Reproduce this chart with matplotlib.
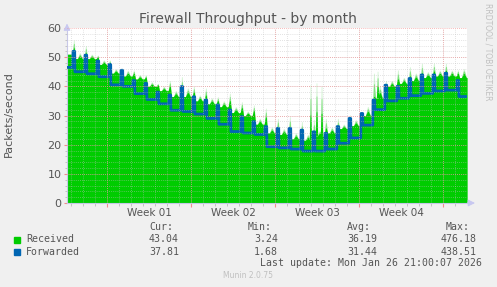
import numpy as np
import matplotlib
matplotlib.use('Agg')
import matplotlib.pyplot as plt

# DATA (packets/second)
# one level per day segment (between the daily spikes), 34 segments
fwd_level = [46.5, 45.0, 44.3, 43.3, 40.5, 40.0, 37.5, 35.5, 34.0, 31.8,
             31.4, 30.5, 29.0, 27.0, 24.5, 24.0, 23.5, 19.3, 18.9, 18.5,
             17.8, 17.8, 18.5, 20.5, 22.3, 26.7, 32.0, 35.0, 35.9, 36.8,
             37.6, 38.4, 38.7, 36.5]
# daily spike peaks, 33 spikes
fwd_peak = [52.0, 50.7, 48.7, 47.5, 45.5, 42.0, 41.0, 38.0, 37.0, 39.9,
            36.4, 35.3, 33.6, 31.9, 29.6, 27.9, 26.2, 25.6, 25.6, 25.0,
            24.4, 23.9, 26.2, 29.0, 30.7, 35.3, 40.4, 40.0, 42.7, 43.9,
            43.9, 44.5, 42.0]
recv_level = [51.0, 49.5, 49.5, 47.5, 44.5, 43.5, 42.5, 40.0, 38.5, 36.5,
              36.5, 35.0, 34.0, 33.0, 31.0, 30.0, 27.0, 24.0, 23.5, 22.0,
              21.5, 23.0, 24.0, 25.5, 26.5, 30.0, 36.0, 40.0, 41.0, 42.0,
              43.0, 43.5, 43.5, 43.0]
# bump in the middle of each day segment
recv_mid = [53.0, 51.5, 51.0, 49.0, 46.0, 45.5, 44.0, 41.5, 40.0, 38.5,
            39.4, 37.0, 36.0, 35.0, 33.0, 31.5, 29.0, 26.0, 25.5, 24.0,
            23.5, 25.0, 26.0, 27.0, 28.5, 33.0, 40.0, 42.0, 43.0, 44.5,
            45.0, 45.5, 45.5, 46.0]
recv_peak = [55.9, 54.0, 50.7, 49.0, 46.2, 45.6, 43.9, 41.0, 42.0, 43.3,
             40.0, 39.4, 36.4, 37.6, 34.7, 33.6, 32.5, 29.0, 29.6, 27.9,
             28.6, 29.0, 29.0, 30.2, 30.7, 44.5, 42.0, 45.6, 46.7, 47.9,
             48.0, 47.9, 45.6]
# extra received bursts not on the daily rhythm (day, peak)
burst_day = [20.33, 20.83, 21.25, 25.92]
burst_peak = [40.4, 41.0, 39.8, 45.0]

week_labels = ['Week 01', 'Week 02', 'Week 03', 'Week 04']
legend_names = ['Received', 'Forwarded']
cur = ['43.04', '37.81']
mins = ['3.24', '1.68']
avgs = ['36.19', '31.44']
maxs = ['476.18', '438.51']

SPAN = 33.33      # days shown
PHASE = 0.57      # spike time inside each day
FIRST_MONDAY = 3.33

GREEN = '#00cc00'
BLUE = '#0066b3'
TXT = '#555555'


def spiky(levels, peaks, frac, inner, outer, mids=None):
    xs, ys = [0.0], [levels[0]]
    for k in range(len(levels)):
        lv = levels[k]
        if mids is not None:
            m = k + PHASE - 0.5
            if m > 0.15:
                top = lv + frac * (mids[k] - lv)
                xs += [m - 0.2, m - 0.04, m + 0.04, m + 0.2]
                ys += [lv, top, top, lv]
        if k < len(peaks):
            s = k + PHASE
            top = lv + frac * (peaks[k] - lv)
            xs += [s - outer, s - inner, s + inner, s + outer]
            ys += [lv, top, top, levels[k + 1]]
    xs.append(SPAN)
    ys.append(levels[-1])
    return np.array(xs), np.array(ys)


fig = plt.figure(figsize=(4.97, 2.87), dpi=100)
fig.patch.set_facecolor('#f0f0f0')
ax = fig.add_axes([67 / 497, 1 - 203 / 287, 400 / 497, 175 / 287])
ax.set_facecolor('white')

# received area in three tones to fake the faded spike tips
for frac, col in [(1.0, '#d2f4d2'), (0.75, '#7ee27e'), (0.45, GREEN)]:
    x, y = spiky(recv_level, recv_peak, frac, 0.03, 0.14, recv_mid)
    ax.fill_between(x, 0, y, color=col, lw=0)
    for d, p in zip(burst_day, burst_peak):
        base = recv_level[min(int(d - PHASE + 1), len(recv_level) - 1)]
        top = base + frac * (p - base)
        ax.fill([d - 0.1, d - 0.03, d + 0.03, d + 0.1], [base, top, top, base],
                color=col, lw=0)

x, y = spiky(fwd_level, fwd_peak, 1.0, 0.07, 0.09)
ax.plot(x, y, color=BLUE, lw=2.0, solid_joinstyle='round', zorder=4)

# grid on top, like rrdtool
for d in np.arange(0.33, SPAN, 1.0):
    ax.axvline(d, color='#c0c0c0', lw=0.6, ls=(0, (1, 1.5)), alpha=0.6, zorder=5)
for v in range(2, 60, 2):
    ax.axhline(v, color='#c0c0c0', lw=0.6, ls=(0, (1, 1.5)), alpha=0.6, zorder=5)
for d in np.arange(FIRST_MONDAY, SPAN, 7.0):
    ax.axvline(d, color='#f08c8c', lw=0.6, ls=(0, (1, 1.5)), alpha=0.8, zorder=6)
for v in range(10, 61, 10):
    ax.axhline(v, color='#f08c8c', lw=0.6, ls=(0, (1, 1.5)), alpha=0.8, zorder=6)

ax.set_xlim(0, SPAN)
ax.set_ylim(0, 60)
for side in ['top', 'right']:
    ax.spines[side].set_visible(False)
ax.spines['left'].set_color('#c8c8e8')
ax.spines['bottom'].set_color('#c8c8e8')
ax.spines['left'].set_linewidth(0.8)
ax.spines['bottom'].set_linewidth(0.8)

ax.set_yticks(range(0, 61, 10))
ax.set_yticks(range(0, 61, 2), minor=True)
ax.set_xticks(np.arange(FIRST_MONDAY, SPAN, 7.0))
ax.set_xticks(np.arange(0.33, SPAN, 1.0), minor=True)
ax.set_xticklabels([])
ax.tick_params(axis='y', which='major', length=2, color='#f08c8c',
               labelsize=8, labelcolor=TXT, pad=2)
ax.tick_params(axis='y', which='minor', length=1.5, color='#bbbbbb')
ax.tick_params(axis='x', which='major', length=3, color='#f08c8c')
ax.tick_params(axis='x', which='minor', length=2, color='#bbbbbb')

for i, lab in enumerate(week_labels):
    ax.text(FIRST_MONDAY + 3.5 + 7 * i, -3.3, lab, ha='center', va='center',
            fontsize=7.5, color=TXT)

# axis arrows
ax.annotate('', xy=(0, 62.5), xytext=(0, 59), annotation_clip=False,
            arrowprops=dict(arrowstyle='-|>', color='#c8c8f0', lw=0.8))
ax.annotate('', xy=(SPAN + 0.9, 0), xytext=(SPAN - 0.2, 0), annotation_clip=False,
            arrowprops=dict(arrowstyle='-|>', color='#c8c8f0', lw=0.8))

ax.set_ylabel('Packets/second', fontsize=8, color=TXT)
ax.yaxis.set_label_coords(-53 / 400, 0.51)

fig.text(248 / 497, 1 - 19 / 287, 'Firewall Throughput - by month',
         ha='center', va='center', fontsize=10, color=TXT)
fig.text(488 / 497, 1 - 52 / 287, 'RRDTOOL / TOBI OETIKER', rotation=270,
         ha='center', va='center', fontsize=5.5, color='#c0c0c0')

# legend block
mono = dict(family='DejaVu Sans Mono', fontsize=7.1, color=TXT, va='center')
W, H = 497.0, 287.0
for txt, xr in [('Cur:', 173), ('Min:', 272), ('Avg:', 371), ('Max:', 470)]:
    fig.text(xr / W, 1 - 227 / H, txt, ha='right', **mono)
rows_y = [239.5, 252]
for i, name in enumerate(legend_names):
    yy = 1 - rows_y[i] / H
    col = GREEN if i == 0 else BLUE
    fig.patches.append(plt.Rectangle((14 / W, yy - 3 / H), 6 / W, 6 / H,
                                     transform=fig.transFigure, color=col))
    fig.text(26 / W, yy, name, ha='left', **mono)
    fig.text(179 / W, yy, cur[i], ha='right', **mono)
    fig.text(278 / W, yy, mins[i], ha='right', **mono)
    fig.text(377 / W, yy, avgs[i], ha='right', **mono)
    fig.text(477 / W, yy, maxs[i], ha='right', **mono)
fig.text(482 / W, 1 - 263.5 / H, 'Last update: Mon Jan 26 21:00:07 2026',
         ha='right', **mono)
fig.text(248 / W, 1 - 276 / H, 'Munin 2.0.75', ha='center', va='center',
         fontsize=5.5, color='#c0c0c0')

fig.savefig('out.png', dpi=100, facecolor=fig.get_facecolor())
